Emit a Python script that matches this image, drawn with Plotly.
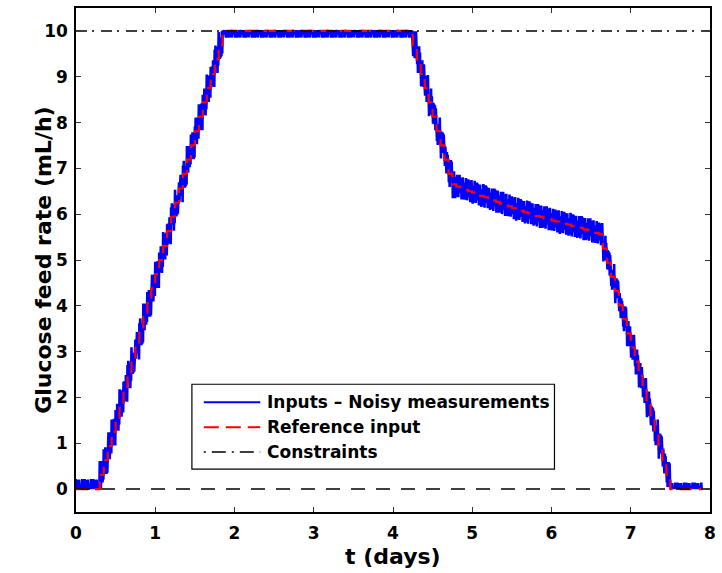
import plotly.graph_objects as go

# ---------------- data ----------------
step_days = 0.05  # length of one piecewise-constant step of the reference input
# reference input level for each step, starting at t = 0
ref_levels = (
    [0.0, 0.0, 0.0, 0.0, 0.0, 0.0]
    + [0.31, 0.63, 0.94, 1.25, 1.56, 1.88, 2.19, 2.50, 2.81, 3.13, 3.44, 3.75,
       4.06, 4.38, 4.69, 5.00, 5.31, 5.63, 5.94, 6.25, 6.56, 6.88, 7.19, 7.50,
       7.81, 8.13, 8.44, 8.75, 9.06, 9.38, 9.69, 10.0]
    + [10.0] * 47
    + [9.69, 9.38, 9.06, 8.75, 8.44, 8.13, 7.81, 7.50, 7.19, 6.88, 6.65]
    + [6.60, 6.56, 6.53, 6.50, 6.47, 6.43, 6.40, 6.37, 6.33, 6.30, 6.27, 6.23,
       6.20, 6.17, 6.13, 6.10, 6.07, 6.04, 6.02, 5.99, 5.96, 5.94, 5.91, 5.89,
       5.86, 5.84, 5.81, 5.79, 5.77, 5.74, 5.72, 5.70, 5.67, 5.65, 5.62, 5.59,
       5.56]
    + [5.25, 4.94, 4.63, 4.32, 4.01, 3.71, 3.40, 3.09, 2.78, 2.47, 2.16, 1.85,
       1.54, 1.24, 0.93, 0.62, 0.31]
    + [0.0] * 8
)
t_end = 7.9

# noisy-measurement envelope (above / below the reference) per time segment
noise_seg_end = [0.30, 1.85, 4.25, 4.80, 6.65, 7.50, 7.90]
noise_up = [0.22, 0.30, 0.02, 0.30, 0.26, 0.28, 0.14]
noise_lo = [0.00, 0.30, 0.15, 0.30, 0.24, 0.28, 0.00]
ripple = [1.0, 0.55, 0.9, 0.35, 0.8, 1.0, 0.6, 0.45, 0.95, 0.7, 0.5]

upper_limit = 10.0
lower_limit = 0.0

x_ticks = [0, 1, 2, 3, 4, 5, 6, 7, 8]
y_ticks = [0, 1, 2, 3, 4, 5, 6, 7, 8, 9, 10]

legend_names = ["Inputs \u2013 Noisy measurements", "Reference input", "Constraints"]

# ---------------- build traces ----------------
step_t = [k * step_days for k in range(len(ref_levels))]

# reference staircase
ref_x = step_t + [t_end]
ref_y = ref_levels + [ref_levels[-1]]

n_sub = 10
meas_x, meas_y = [], []
idx = 0
for k, (t0, v) in enumerate(zip(step_t, ref_levels)):
    seg = 0
    while seg < len(noise_seg_end) - 1 and t0 + 1e-9 >= noise_seg_end[seg]:
        seg += 1
    for j in range(n_sub):
        r = ripple[idx % len(ripple)]
        off = noise_up[seg] * r if j % 2 == 0 else -noise_lo[seg] * r
        meas_x.append(t0 + j * step_days / n_sub)
        meas_y.append(v + off)
        idx += 1

FONT = "DejaVu Sans"
fig = go.Figure()

fig.add_trace(go.Scatter(x=meas_x, y=meas_y, mode="lines",
                         line=dict(color="#0000FF", width=2.6),
                         name=legend_names[0], showlegend=False, hoverinfo="skip"))
fig.add_trace(go.Scatter(x=ref_x, y=ref_y, mode="lines",
                         line=dict(color="#FF0000", width=2.2, dash="12px,7px", shape="hv"),
                         name=legend_names[1], showlegend=False))
fig.add_trace(go.Scatter(x=[0, 8], y=[upper_limit, upper_limit], mode="lines",
                         line=dict(color="black", width=1.5, dash="11px,5px,2px,7px"),
                         name=legend_names[2], showlegend=False))
fig.add_trace(go.Scatter(x=[0, 8], y=[lower_limit, lower_limit], mode="lines",
                         line=dict(color="black", width=1.5, dash="14px,11px"),
                         name="lower", showlegend=False))

# ---------------- layout ----------------
W, H = 722, 573
ML, MR, MT, MB = 76, 6, 7, 61
pw, ph = W - ML - MR, H - MT - MB

def px_x(p):
    return (p - ML) / pw

def px_y(p):
    return (H - MB - p) / ph

axis_common = dict(showline=True, linecolor="black", linewidth=1.5, mirror="ticks",
                   ticks="inside", ticklen=5, tickwidth=1, tickcolor="#333333",
                   showgrid=False, zeroline=False,
                   tickfont=dict(family=FONT, size=17, color="black", weight="bold"))

fig.update_layout(
    width=W, height=H,
    margin=dict(l=ML, r=MR, t=MT, b=MB),
    paper_bgcolor="white", plot_bgcolor="white",
    showlegend=False,
    xaxis=dict(range=[0, 8], tickvals=x_ticks, ticklabelstandoff=5, **axis_common),
    yaxis=dict(range=[-0.5, 10.5], tickvals=y_ticks, ticklabelstandoff=3, **axis_common),
)

# axis titles
fig.add_annotation(text="Glucose feed rate (mL/h)", xref="paper", yref="paper",
                   x=px_x(43), y=px_y(260), textangle=-90, showarrow=False,
                   xanchor="center", yanchor="middle",
                   font=dict(family=FONT, size=22, color="black", weight="bold"))
fig.add_annotation(text="t (days)", xref="paper", yref="paper",
                   x=px_x(396), y=px_y(557), showarrow=False,
                   xanchor="center", yanchor="middle",
                   font=dict(family=FONT, size=22, color="black", weight="bold"))

# legend box (drawn manually to match sample length)
fig.add_shape(type="rect", xref="paper", yref="paper",
              x0=px_x(193), x1=px_x(559), y0=px_y(469), y1=px_y(384),
              line=dict(color="black", width=1.2), fillcolor="white", layer="above")
rows = [402, 427, 452]
styles = [dict(color="#0000FF", width=2, dash="solid"),
          dict(color="#FF0000", width=2, dash="15px,7px"),
          dict(color="black", width=1.5, dash="2px,6px,14px,6px")]
for ry, st, name in zip(rows, styles, legend_names):
    fig.add_shape(type="line", xref="paper", yref="paper",
                  x0=px_x(205), x1=px_x(262), y0=px_y(ry), y1=px_y(ry),
                  line=st, layer="above")
    fig.add_annotation(text=name, xref="paper", yref="paper",
                       x=px_x(267), y=px_y(ry), showarrow=False,
                       xanchor="left", yanchor="middle",
                       font=dict(family=FONT, size=17, color="black", weight="bold"))

fig.write_html("out.html")
